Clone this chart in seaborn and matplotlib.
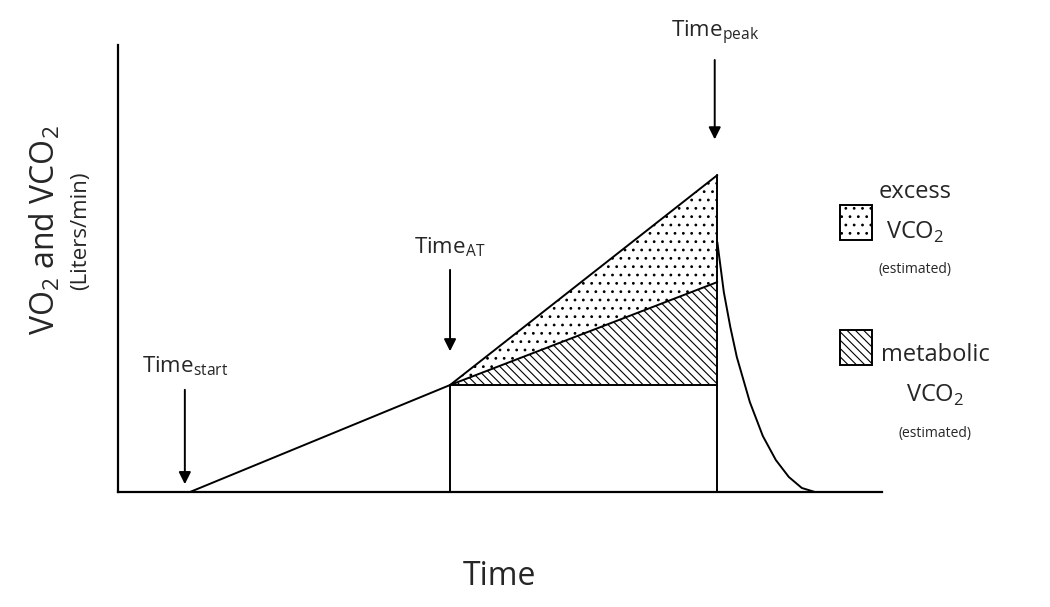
import matplotlib
matplotlib.use("Agg")
import matplotlib.pyplot as plt
import seaborn as sns
from matplotlib.patches import Rectangle

sns.set_style("white")
plt.rcParams['font.family'] = ['Open Sans', 'DejaVu Sans']
plt.rcParams['hatch.linewidth'] = 0.8

# schematic values (arbitrary units)
t_start, t_at, t_peak = 2.77, 12.77, 23.05
y_at, y_peak, y_metab = 10.7, 31.7, 21.0
decay_t = [23.05, 23.3, 23.55, 23.8, 24.3, 24.8, 25.3, 25.8, 26.3, 26.8]
decay_y = [25.0, 20.0, 16.5, 13.5, 9.0, 5.6, 3.2, 1.5, 0.4, 0.0]

fig = plt.figure(figsize=(10.5, 6.07), dpi=100)
ax = fig.add_axes([0.1124, 0.1895, 0.728, 0.736])
ax.set_xlim(0, 29.4)
ax.set_ylim(0, 44.7)
sns.despine(ax=ax)
for s in ['left', 'bottom']:
    ax.spines[s].set_linewidth(1.6)
    ax.spines[s].set_color('black')
ax.set_xticks([])
ax.set_yticks([])

lw = 1.4
sns.lineplot(x=[t_start, t_at, t_peak], y=[0, y_at, y_peak], ax=ax, color='black', lw=lw)
sns.lineplot(x=[t_at, t_peak], y=[y_at, y_metab], ax=ax, color='black', lw=lw)
sns.lineplot(x=[t_at, t_peak], y=[y_at, y_at], ax=ax, color='black', lw=lw)
ax.plot([t_at, t_at], [0, y_at], color='black', lw=lw)
ax.plot([t_peak, t_peak], [0, y_peak], color='black', lw=lw)
sns.lineplot(x=decay_t, y=decay_y, ax=ax, color='black', lw=lw)

ax.fill_between([t_at, t_peak], [y_at, y_metab], [y_at, y_peak], facecolor='none',
                edgecolor='black', hatch='..', lw=0)
ax.fill_between([t_at, t_peak], [y_at, y_at], [y_at, y_metab], facecolor='none',
                edgecolor='black', hatch='\\\\\\\\', lw=0)

arrow = dict(arrowstyle='-|>', color='black', lw=1.4, mutation_scale=18)
ax.annotate('', xy=(t_start - 0.2, 0.5), xytext=(t_start - 0.2, 10.5), arrowprops=arrow)
ax.text(t_start - 0.2, 11.4, 'Time$_\\mathregular{start}$', ha='center', va='bottom', fontsize=16)
ax.annotate('', xy=(t_at, 13.8), xytext=(t_at, 22.5), arrowprops=arrow)
ax.text(t_at, 23.3, 'Time$_\\mathregular{AT}$', ha='center', va='bottom', fontsize=16)
ax.annotate('', xy=(t_peak - 0.1, 35.0), xytext=(t_peak - 0.1, 43.5), arrowprops=arrow)
ax.text(t_peak - 0.1, 44.5, 'Time$_\\mathregular{peak}$', ha='center', va='bottom', fontsize=16)

fig.text(0.043, 0.62, 'VO$_\\mathregular{2}$ and VCO$_\\mathregular{2}$', rotation=90,
         ha='center', va='center', fontsize=23)
fig.text(0.077, 0.62, '(Liters/min)', rotation=90, ha='center', va='center', fontsize=16)
fig.text(0.476, 0.05, 'Time', ha='center', va='center', fontsize=23)

# legend
W, H = 1050, 607
fig.patches.append(Rectangle((840 / W, 1 - 240 / H), 32 / W, 35 / H, transform=fig.transFigure,
                             facecolor='white', edgecolor='black', hatch='..', lw=1.4))
fig.patches.append(Rectangle((840 / W, 1 - 365 / H), 32 / W, 35 / H, transform=fig.transFigure,
                             facecolor='white', edgecolor='black', hatch='\\\\\\\\', lw=1.4))
fig.text(915 / W, 1 - 192 / H, 'excess', ha='center', va='center', fontsize=17)
fig.text(915 / W, 1 - 232 / H, 'VCO$_\\mathregular{2}$', ha='center', va='center', fontsize=17)
fig.text(915 / W, 1 - 270 / H, '(estimated)', ha='center', va='center', fontsize=10)
fig.text(935 / W, 1 - 355 / H, 'metabolic', ha='center', va='center', fontsize=17)
fig.text(935 / W, 1 - 395 / H, 'VCO$_\\mathregular{2}$', ha='center', va='center', fontsize=17)
fig.text(935 / W, 1 - 433 / H, '(estimated)', ha='center', va='center', fontsize=10)

fig.savefig('out.png', dpi=100)
